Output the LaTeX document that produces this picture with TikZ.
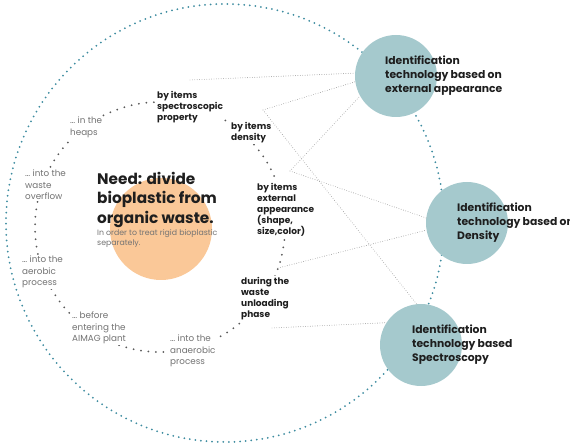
\documentclass[tikz,border=0pt]{standalone}
\usepackage{fontspec}
\setmainfont{Poppins}
\definecolor{teal1}{RGB}{62,140,160}
\definecolor{bub}{RGB}{165,201,205}
\definecolor{peach}{RGB}{250,200,152}
\definecolor{dotgrey}{RGB}{90,90,90}
\definecolor{lgrey}{RGB}{160,160,160}
\definecolor{txtdark}{RGB}{30,30,30}
\definecolor{txtgrey}{RGB}{115,115,115}
\tikzset{
 outerring/.style={teal1, line width=2pt, line cap=round, dash pattern=on 0pt off 5.6pt},
 innerring/.style={dotgrey, line width=2pt, line cap=round, dash pattern=on 0pt off 7.5pt},
 link/.style={lgrey, line width=0.9pt, line cap=round, dash pattern=on 0pt off 2.4pt},
 tech/.style={circle, fill=bub, minimum size=82pt, inner sep=0pt, outer sep=0pt},
 techtxt/.style={anchor=north west, inner sep=0pt, align=left, text=txtdark, font=\bfseries\fontsize{10.8}{14}\selectfont},
 boldlab/.style={anchor=north west, inner sep=1pt, fill=white, align=left, text=txtdark, font=\bfseries\fontsize{9}{11}\selectfont},
 greylab/.style={anchor=north west, inner sep=1pt, fill=white, align=left, text=txtgrey, font=\fontsize{8.8}{11.5}\selectfont},
}
\begin{document}
\begin{tikzpicture}[x=1pt,y=-1pt]
\useasboundingbox (0,0) rectangle (570,443);
% rings
\draw[outerring] (225,223) circle [radius=219pt];
\node[circle, fill=peach, minimum size=102pt, inner sep=0pt] (need) at (161,229) {};
\draw[innerring] (160,227) circle [radius=125pt];
% labels on the inner ring
\node[boldlab] (spec) at (156,90) {by items\\spectroscopic\\property};
\node[boldlab] (dens) at (230,121) {by items\\density};
\node[boldlab] (ext) at (256,182) {by items\\external\\appearance\\(shape,\\size,color)};
\node[boldlab] (unl) at (240,276) {during the\\waste\\unloading\\phase};
\node[greylab] (heaps) at (69,116) {… in the\\heaps};
\node[greylab] (overflow) at (24,169) {… into the\\waste\\overflow};
\node[greylab] (aerobic) at (21,255) {… into the\\aerobic\\process};
\node[greylab] (before) at (71,311) {… before\\entering the\\AIMAG plant};
\node[greylab] (anaer) at (169,334) {… into the\\anaerobic\\process};
% central text
\node[anchor=north west, inner sep=0pt, align=left, text=txtdark, font=\bfseries\fontsize{15.3}{19.5}\selectfont] (needtxt) at (97,172) {Need: divide\\bioplastic from\\organic waste.};
\node[anchor=north west, inner sep=0pt, align=left, text=txtgrey, font=\fontsize{7.8}{10}\selectfont] (sub) at (97,229) {In order to treat rigid bioplastic\\separately.};
% connectors
\coordinate (p1) at (190,80);
\coordinate (p2) at (263,110);
\coordinate (p3) at (290,171);
\coordinate (p4) at (278,268);
\coordinate (p5) at (272,328);
\node[tech] (c1) at (396,76) {};
\node[tech] (c2) at (467,223) {};
\node[tech] (c3) at (421,345) {};
\draw[link] (p1) -- (c1.176);
\draw[link] (p2) -- (c1.188);
\draw[link] (p2) -- (c3.96);
\draw[link] (p3) -- (c1.209);
\draw[link] (p3) -- (c2.173);
\draw[link] (p4) -- (c2.190);
\draw[link] (p5) -- (c3.147);
% technology texts
\node[techtxt] (t1) at (385,56) {Identification\\technology based on\\external appearance};
\node[techtxt] (t2) at (457,203) {Identification\\technology based on\\Density};
\node[techtxt] (t3) at (412,325) {Identification\\technology based\\Spectroscopy};
\end{tikzpicture}
\end{document}
